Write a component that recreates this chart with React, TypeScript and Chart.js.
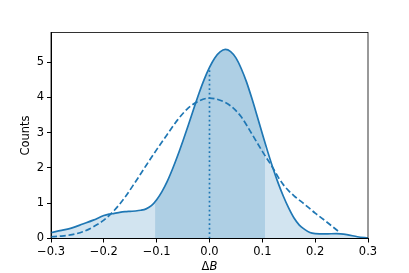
import React, { useEffect, useRef } from 'react';
import { Chart, registerables } from 'chart.js';

Chart.register(...registerables);

// ---- data ----
const solidX = [-0.3, -0.28, -0.26, -0.24, -0.22, -0.2, -0.19, -0.18, -0.17, -0.16, -0.15, -0.14, -0.13, -0.12, -0.11, -0.1, -0.09, -0.08, -0.07, -0.06, -0.05, -0.04, -0.03, -0.02, -0.01, 0.0, 0.01, 0.02, 0.03, 0.04, 0.05, 0.06, 0.07, 0.08, 0.09, 0.1, 0.11, 0.12, 0.13, 0.14, 0.15, 0.16, 0.17, 0.18, 0.19, 0.2, 0.22, 0.24, 0.26, 0.28, 0.3];
const solidY = [0.17, 0.23, 0.3, 0.41, 0.52, 0.65, 0.69, 0.71, 0.74, 0.76, 0.77, 0.78, 0.8, 0.84, 0.93, 1.1, 1.33, 1.62, 1.97, 2.36, 2.78, 3.22, 3.67, 4.11, 4.51, 4.85, 5.12, 5.29, 5.36, 5.3, 5.12, 4.82, 4.44, 3.98, 3.48, 2.97, 2.47, 2.0, 1.57, 1.19, 0.86, 0.58, 0.38, 0.26, 0.17, 0.14, 0.13, 0.14, 0.11, 0.05, 0.01];

const dashedX = [-0.3, -0.28, -0.26, -0.24, -0.22, -0.2, -0.18, -0.16, -0.14, -0.12, -0.1, -0.08, -0.06, -0.04, -0.02, 0.0, 0.02, 0.04, 0.06, 0.08, 0.1, 0.12, 0.13, 0.14, 0.15, 0.16, 0.18, 0.2, 0.22, 0.245];
const dashedY = [0.05, 0.07, 0.11, 0.19, 0.33, 0.52, 0.8, 1.17, 1.61, 2.07, 2.52, 2.95, 3.37, 3.7, 3.9, 3.98, 3.92, 3.76, 3.45, 2.97, 2.47, 2.0, 1.74, 1.52, 1.35, 1.21, 0.97, 0.72, 0.49, 0.19];

const shadeRange = [-0.103, 0.105];
const markerX = 0.0;

const xTicks = [-0.3, -0.2, -0.1, 0.0, 0.1, 0.2, 0.3];
const xTickLabels = ['\u22120.3', '\u22120.2', '\u22120.1', '0.0', '0.1', '0.2', '0.3'];
const yTicks = [0, 1, 2, 3, 4, 5];
const yTickLabels = ['0', '1', '2', '3', '4', '5'];
const xLabelMain = '\u0394';
const xLabelVar = 'B';
const yLabel = 'Counts';
const xRange = [-0.3, 0.3];
const yRange = [0, 5.84];

const BLUE = '#1f77b4';
const FONT = "'DejaVu Sans'";
const FS = 11.5;

function curveAt(xs: number[], ys: number[], x: number): number {
  for (let i = 0; i < xs.length - 1; i++) {
    if (x >= xs[i] && x <= xs[i + 1]) {
      const t = (x - xs[i]) / (xs[i + 1] - xs[i]);
      return ys[i] + t * (ys[i + 1] - ys[i]);
    }
  }
  return 0;
}

const framePlugin = {
  id: 'frameAndXTitle',
  afterDraw(chart: any) {
    const { ctx, chartArea: a } = chart;
    ctx.save();
    ctx.strokeStyle = '#000';
    ctx.lineWidth = 0.8;
    ctx.strokeRect(a.left, a.top, a.right - a.left, a.bottom - a.top);
    ctx.fillStyle = '#000';
    ctx.textBaseline = 'alphabetic';
    ctx.textAlign = 'left';
    const f1 = `${FS}px ${FONT}`;
    const f2 = `italic ${FS}px ${FONT}`;
    ctx.font = f1;
    const w1 = ctx.measureText(xLabelMain).width;
    ctx.font = f2;
    const w2 = ctx.measureText(xLabelVar).width;
    const cx = (a.left + a.right) / 2;
    const x0 = cx - (w1 + w2) / 2;
    const y = a.bottom + 31.7;
    ctx.font = f1;
    ctx.fillText(xLabelMain, x0, y);
    ctx.font = f2;
    ctx.fillText(xLabelVar, x0 + w1, y);
    ctx.restore();
  },
};

export default function App() {
  const ref = useRef<HTMLCanvasElement | null>(null);

  useEffect(() => {
    if (!ref.current) return;
    const solidPts = solidX.map((x, i) => ({ x, y: solidY[i] }));
    const dashedPts = dashedX.map((x, i) => ({ x, y: dashedY[i] }));
    const shadePts = [
      { x: shadeRange[0], y: curveAt(solidX, solidY, shadeRange[0]) },
      ...solidPts.filter((p) => p.x > shadeRange[0] && p.x < shadeRange[1]),
      { x: shadeRange[1], y: curveAt(solidX, solidY, shadeRange[1]) },
    ];
    const markerPts = [
      { x: markerX, y: 0 },
      { x: markerX, y: curveAt(solidX, solidY, markerX) },
    ];

    const chart = new Chart(ref.current, {
      type: 'line',
      data: {
        datasets: [
          {
            data: solidPts,
            borderColor: BLUE,
            borderWidth: 1.7,
            fill: false,
            cubicInterpolationMode: 'monotone',
            order: 0,
          },
          {
            data: markerPts,
            borderColor: BLUE,
            borderWidth: 1.7,
            borderDash: [1.7, 2.8],
            fill: false,
            order: 1,
          },
          {
            data: dashedPts,
            borderColor: BLUE,
            borderWidth: 1.7,
            borderDash: [6, 2.8],
            fill: false,
            cubicInterpolationMode: 'monotone',
            order: 2,
          },
          {
            data: shadePts,
            borderWidth: 0,
            borderColor: 'rgba(0,0,0,0)',
            backgroundColor: 'rgba(31,119,180,0.2)',
            fill: 'origin',
            cubicInterpolationMode: 'monotone',
            order: 3,
          },
          {
            data: solidPts,
            borderWidth: 0,
            borderColor: 'rgba(0,0,0,0)',
            backgroundColor: 'rgba(31,119,180,0.2)',
            fill: 'origin',
            cubicInterpolationMode: 'monotone',
            order: 4,
          },
        ],
      } as any,
      options: {
        responsive: false,
        animation: false,
        devicePixelRatio: 1,
        elements: { point: { radius: 0, hoverRadius: 0 } },
        layout: { padding: { left: 0, right: 41, top: 32.5, bottom: 0 } },
        plugins: { legend: { display: false }, tooltip: { enabled: false } },
        scales: {
          x: {
            type: 'linear',
            min: xRange[0],
            max: xRange[1],
            afterBuildTicks: (s: any) => {
              s.ticks = xTicks.map((v) => ({ value: v }));
            },
            afterFit: (s: any) => {
              s.height = 34.5;
            },
            ticks: {
              callback: (_v: any, i: number) => xTickLabels[i],
              color: '#000',
              font: { family: FONT, size: FS },
              padding: 3,
              maxRotation: 0,
              autoSkip: false,
            },
            grid: { drawOnChartArea: false, drawTicks: true, tickLength: 4, color: '#000' },
            border: { display: true, color: '#000', width: 1 },
          },
          y: {
            type: 'linear',
            min: yRange[0],
            max: yRange[1],
            afterBuildTicks: (s: any) => {
              s.ticks = yTicks.map((v) => ({ value: v }));
            },
            afterFit: (s: any) => {
              s.width = 51;
            },
            ticks: {
              callback: (_v: any, i: number) => yTickLabels[i],
              color: '#000',
              font: { family: FONT, size: FS },
              padding: 3,
              autoSkip: false,
            },
            title: {
              display: true,
              text: yLabel,
              color: '#000',
              font: { family: FONT, size: FS },
              padding: { top: 19, bottom: 0 },
            },
            grid: { drawOnChartArea: false, drawTicks: true, tickLength: 4, color: '#000' },
            border: { display: true, color: '#000', width: 1 },
          },
        },
      } as any,
      plugins: [framePlugin],
    });
    return () => chart.destroy();
  }, []);

  return (
    <div style={{ position: 'absolute', left: 0, top: 0, width: 409, height: 273, background: '#fff' }}>
      <canvas ref={ref} width={409} height={273} style={{ display: 'block', width: 409, height: 273 }} />
    </div>
  );
}
